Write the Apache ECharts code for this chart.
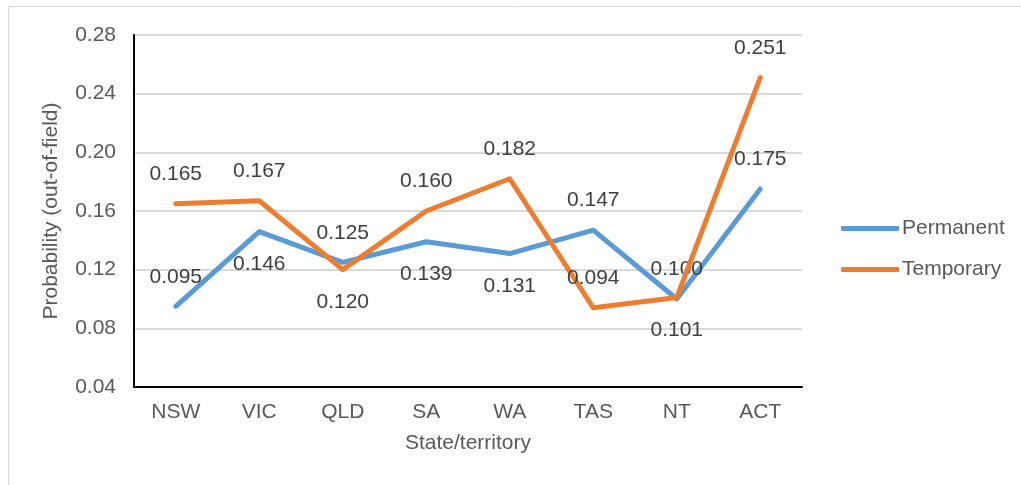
<!DOCTYPE html>
<html>
<head>
<meta charset="utf-8">
<script src="https://cdn.jsdelivr.net/npm/echarts@6/dist/echarts.min.js"></script>
<style>
html,body{margin:0;padding:0;background:#fff;}
#chart{width:1021px;height:485px;}
</style>
</head>
<body>
<div id="chart"></div>
<script>
var categories = ['NSW', 'VIC', 'QLD', 'SA', 'WA', 'TAS', 'NT', 'ACT'];
var permanent = [0.095, 0.146, 0.125, 0.139, 0.131, 0.147, 0.100, 0.175];
var temporary = [0.165, 0.167, 0.120, 0.160, 0.182, 0.094, 0.101, 0.251];
var permanentLabelPos = ['top', 'bottom', 'top', 'bottom', 'bottom', 'top', 'top', 'top'];
var temporaryLabelPos = ['top', 'top', 'bottom', 'top', 'top', 'top', 'bottom', 'top'];
var yTicks = [0.04, 0.08, 0.12, 0.16, 0.20, 0.24, 0.28];

var FONT = '"Liberation Sans", Arial, sans-serif';
var FS = 21;

function buildData(values, positions) {
  return values.map(function (v, i) {
    return { value: v, label: { position: positions[i], distance: positions[i] === 'bottom' ? 22 : 19 } };
  });
}

var chart = echarts.init(document.getElementById('chart'));
chart.setOption({
  animation: false,
  backgroundColor: '#ffffff',
  grid: { left: 134, right: 219, top: 35, bottom: 98 },
  graphic: [
    { type: 'line', shape: { x1: 8, y1: 6.5, x2: 1021, y2: 6.5 }, style: { stroke: '#d9d9d9', lineWidth: 1 }, silent: true },
    { type: 'line', shape: { x1: 8.5, y1: 6, x2: 8.5, y2: 485 }, style: { stroke: '#d9d9d9', lineWidth: 1 }, silent: true }
  ],
  legend: {
    orient: 'vertical',
    left: 836,
    top: 213,
    itemWidth: 58,
    itemHeight: 5,
    itemGap: 20,
    icon: 'roundRect',
    textStyle: { fontFamily: FONT, fontSize: FS, color: '#595959', padding: [0, 0, 0, -2] },
    data: ['Permanent', 'Temporary']
  },
  xAxis: {
    type: 'category',
    data: categories,
    boundaryGap: true,
    name: 'State/territory',
    nameLocation: 'middle',
    nameGap: 46,
    nameTextStyle: { fontFamily: FONT, fontSize: FS, color: '#595959' },
    axisLine: { lineStyle: { color: '#000000', width: 2 } },
    axisTick: { show: false },
    axisLabel: { fontFamily: FONT, fontSize: FS, color: '#595959', margin: 15 },
    splitLine: { show: false }
  },
  yAxis: {
    type: 'value',
    min: 0.04,
    max: 0.28,
    interval: 0.04,
    name: 'Probability (out-of-field)',
    nameLocation: 'middle',
    nameGap: 72,
    nameTextStyle: { fontFamily: FONT, fontSize: FS, color: '#595959' },
    axisLine: { show: true, lineStyle: { color: '#000000', width: 2 } },
    axisTick: { show: false },
    axisLabel: {
      fontFamily: FONT, fontSize: FS, color: '#595959', margin: 18,
      formatter: function (v) {
        var t = yTicks.find(function (x) { return Math.abs(x - v) < 1e-9; });
        return (t !== undefined ? t : v).toFixed(2);
      }
    },
    splitLine: { show: true, lineStyle: { color: '#d9d9d9', width: 2 } }
  },
  series: [
    {
      name: 'Permanent',
      type: 'line',
      data: buildData(permanent, permanentLabelPos),
      symbol: 'circle',
      symbolSize: 0,
      showSymbol: true,
      lineStyle: { color: '#5B9BD5', width: 5, cap: 'round', join: 'round' },
      itemStyle: { color: '#5B9BD5' },
      label: {
        show: true, distance: 19,
        fontFamily: FONT, fontSize: FS, color: '#404040',
        formatter: function (p) { return p.value.toFixed(3); }
      },
      z: 3
    },
    {
      name: 'Temporary',
      type: 'line',
      data: buildData(temporary, temporaryLabelPos),
      symbol: 'circle',
      symbolSize: 0,
      showSymbol: true,
      lineStyle: { color: '#ED7D31', width: 5, cap: 'round', join: 'round' },
      itemStyle: { color: '#ED7D31' },
      label: {
        show: true, distance: 19,
        fontFamily: FONT, fontSize: FS, color: '#404040',
        formatter: function (p) { return p.value.toFixed(3); }
      },
      z: 4
    }
  ]
});
</script>
</body>
</html>
